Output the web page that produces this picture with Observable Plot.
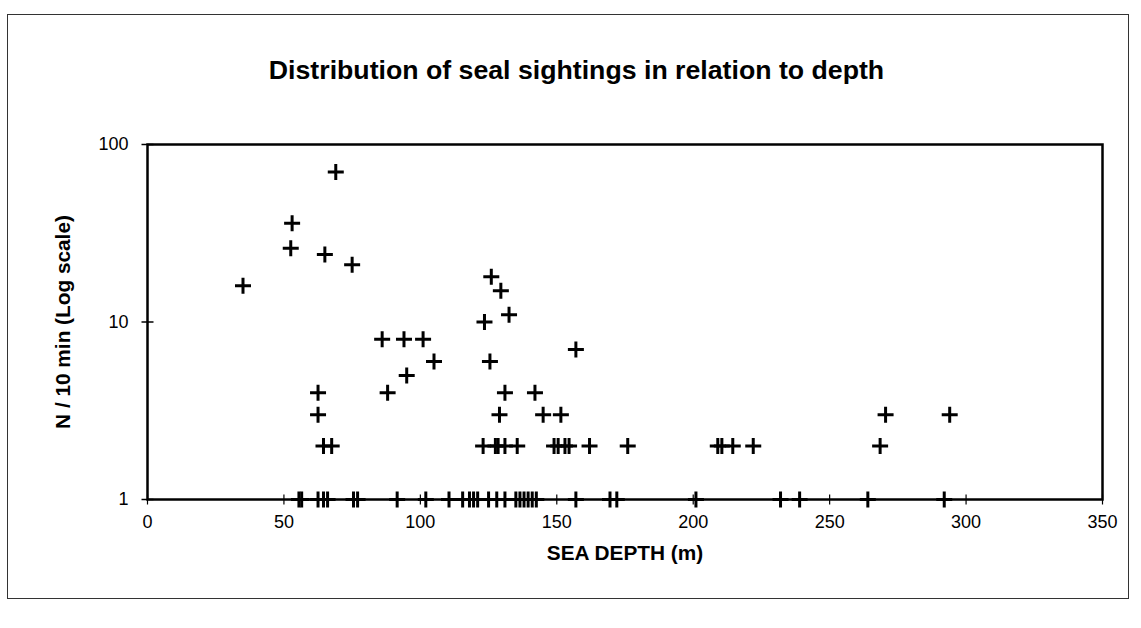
<!DOCTYPE html>
<html>
<head>
<meta charset="utf-8">
<script src="https://cdn.jsdelivr.net/npm/d3@7"></script>
<script src="https://cdn.jsdelivr.net/npm/@observablehq/plot@0.6"></script>
<style>
  body { margin: 0; background: #fff; }
  #page { position: relative; width: 1141px; height: 628px; overflow: hidden; background: #fff;
          font-family: "Liberation Sans", Arial, sans-serif; color: #000; }
  #border { position: absolute; left: 7px; top: 14px; width: 1122px; height: 585px;
            border: 1.5px solid #333; box-sizing: border-box; z-index: 2; pointer-events: none; }
  #title { position: absolute; top: 55px; left: 6px; width: 1141px; text-align: center;
           font-weight: bold; font-size: 26.7px; line-height: 30px; }
  #chart { position: absolute; left: 0; top: 100px; }
</style>
</head>
<body>
<div id="page">
  <div id="title">Distribution of seal sightings in relation to depth</div>
  <div id="chart"></div>
  <div id="border"></div>
</div>
<script>
// Sightings with more than one seal per 10 minutes
const depthMulti = [35, 52.5, 53, 65, 69, 75, 86, 88, 94, 95, 101, 105,
  62.5, 62.5, 64.5, 67.5, 123.5, 125.5, 126, 129.5, 132.5, 157,
  131, 142, 129, 145, 151.5, 123, 127.5, 128.5, 131, 135.5,
  149, 150.5, 153, 154.5, 162, 176, 209, 210.5, 214.5, 222,
  268.5, 270.5, 294];
const countMulti = [16, 26, 36, 24, 70, 21, 8, 4, 8, 5, 8, 6,
  4, 3, 2, 2, 10, 6, 18, 15, 11, 7,
  4, 4, 3, 3, 3, 2, 2, 2, 2, 2,
  2, 2, 2, 2, 2, 2, 2, 2, 2, 2,
  2, 3, 3];

// Single-seal sightings (N = 1)
const depthSingle = [55.5, 56.5, 62.5, 64.5, 66, 75.5, 77, 91.5, 102, 110.5,
  115.5, 118, 119.5, 121, 125, 128, 131, 135, 136.5, 138, 139.5, 141, 142.5,
  157, 169.5, 172, 201, 232, 239, 264, 292];

const xTicks = [0, 50, 100, 150, 200, 250, 300, 350];
const yTicks = [1, 10, 100];
const xTitle = "SEA DEPTH (m)";
const yTitle = "N / 10 min (Log scale)";

const points = [
  ...depthMulti.map((d, i) => ({depth: d, n: countMulti[i]})),
  ...depthSingle.map(d => ({depth: d, n: 1}))
];

// Open "+" marker and tick bars drawn as stroked symbols
const radius = size => Math.sqrt(size / Math.PI);
const plus = {draw(ctx, size) { const a = radius(size);
  ctx.moveTo(-a, 0); ctx.lineTo(a, 0); ctx.moveTo(0, -a); ctx.lineTo(0, a); }};
const vbar = {draw(ctx, size) { const a = radius(size); ctx.moveTo(0, -a); ctx.lineTo(0, a); }};
const hbar = {draw(ctx, size) { const a = radius(size); ctx.moveTo(-a, 0); ctx.lineTo(a, 0); }};

const chart = Plot.plot({
  width: 1141,
  height: 528,
  marginTop: 44,
  marginBottom: 129,
  marginLeft: 147,
  marginRight: 39,
  style: {fontFamily: "Liberation Sans, Arial, sans-serif", fontSize: "18px", color: "#000", background: "transparent"},
  x: {domain: [0, 350]},
  y: {type: "log", domain: [1, 100]},
  marks: [
    Plot.axisX(xTicks, {tickSize: 0, tickPadding: 16, fontSize: 18, label: null, tickFormat: d3.format("d")}),
    Plot.axisY(yTicks, {tickSize: 0, tickPadding: 19, fontSize: 18, label: null, tickFormat: d3.format("d")}),
    Plot.dot(xTicks, {x: d => d, y: () => 1, symbol: vbar, r: 5, stroke: "#000", strokeWidth: 1.2, fill: "none"}),
    Plot.dot(yTicks, {x: () => 0, y: d => d, symbol: hbar, r: 6, stroke: "#000", strokeWidth: 1.5, fill: "none"}),
    Plot.frame({stroke: "#000", strokeWidth: 2.5}),
    Plot.dot(points, {x: "depth", y: "n", symbol: plus, r: 8, stroke: "#000", strokeWidth: 3, fill: "none"}),
    Plot.text([xTitle], {text: d => d, frameAnchor: "bottom", textAnchor: "middle", lineAnchor: "middle",
      dy: 54, fontWeight: "bold", fontSize: 20.8}),
    Plot.text([yTitle], {text: d => d, frameAnchor: "left", textAnchor: "middle", lineAnchor: "middle",
      dx: -84, rotate: -90, fontWeight: "bold", fontSize: 20.8})
  ]
});
document.getElementById("chart").appendChild(chart);
</script>
</body>
</html>
